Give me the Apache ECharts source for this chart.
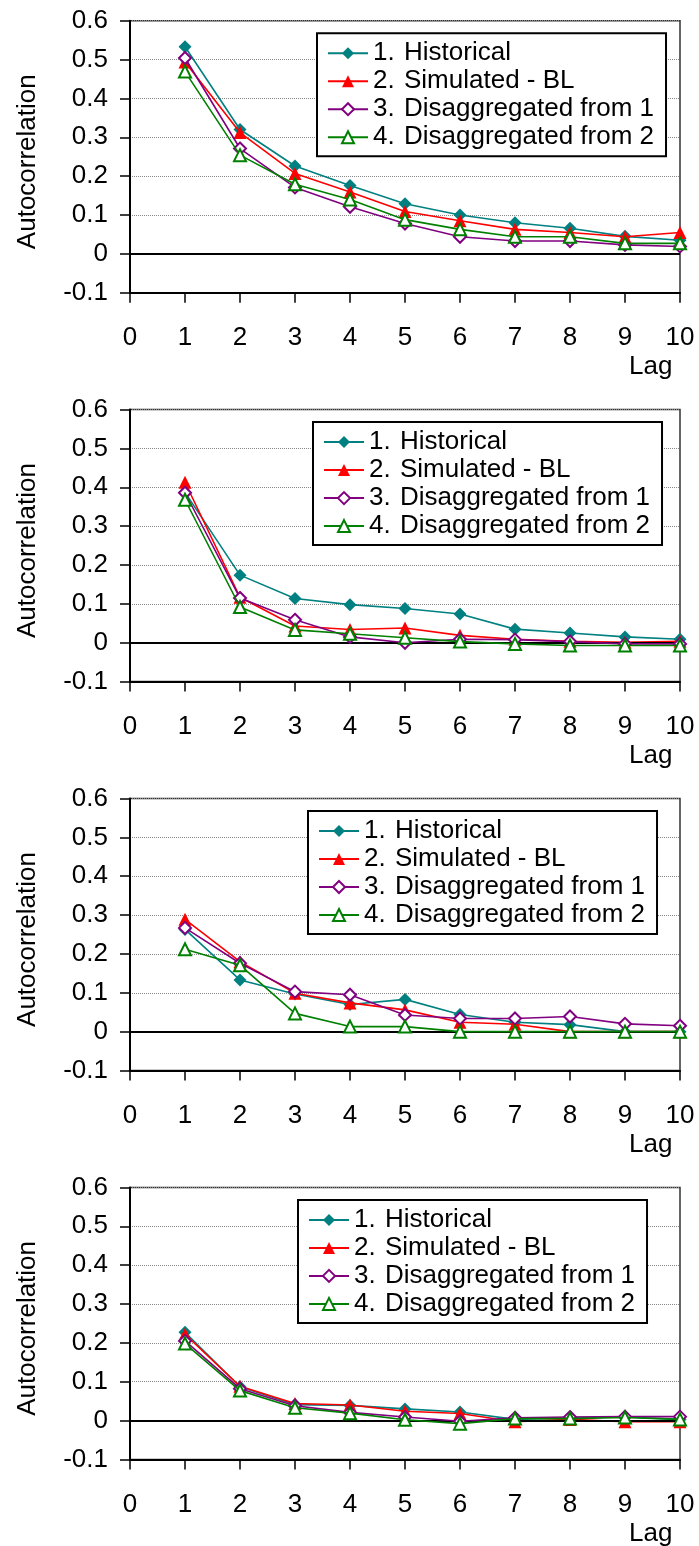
<!DOCTYPE html>
<html>
<head>
<meta charset="utf-8">
<script src="https://cdn.jsdelivr.net/npm/echarts@6/dist/echarts.min.js"></script>
<style>
  html, body { margin: 0; padding: 0; background: #fff; }
  #main { width: 699px; height: 1546px; }
</style>
</head>
<body>
<div id="main"></div>
<script>
var lags = [1, 2, 3, 4, 5, 6, 7, 8, 9, 10];
var seriesNames = ['1. Historical', '2. Simulated - BL', '3. Disaggregated from 1', '4. Disaggregated from 2'];
var yTicks = [-0.1, 0, 0.1, 0.2, 0.3, 0.4, 0.5, 0.6];

// panel 1
var p1Hist = [0.533, 0.320, 0.226, 0.176, 0.129, 0.100, 0.080, 0.066, 0.045, 0.035];
var p1Sim  = [0.494, 0.312, 0.207, 0.159, 0.109, 0.085, 0.063, 0.055, 0.044, 0.055];
var p1D1   = [0.504, 0.271, 0.171, 0.121, 0.078, 0.044, 0.033, 0.033, 0.023, 0.019];
var p1D2   = [0.469, 0.254, 0.179, 0.140, 0.088, 0.063, 0.044, 0.044, 0.027, 0.027];
// panel 2
var p2Hist = [0.387, 0.174, 0.114, 0.098, 0.088, 0.074, 0.035, 0.025, 0.015, 0.009];
var p2Sim  = [0.413, 0.117, 0.043, 0.034, 0.038, 0.019, 0.009, 0.004, 0.001, 0.004];
var p2D1   = [0.386, 0.115, 0.059, 0.015, 0.000, 0.009, 0.008, 0.003, -0.003, -0.003];
var p2D2   = [0.368, 0.092, 0.033, 0.023, 0.013, 0.003, -0.003, -0.007, -0.007, -0.007];
// panel 3
var p3Hist = [0.263, 0.133, 0.097, 0.070, 0.083, 0.044, 0.024, 0.018, 0.000, 0.000];
var p3Sim  = [0.289, 0.180, 0.099, 0.074, 0.056, 0.024, 0.019, 0.000, 0.000, 0.000];
var p3D1   = [0.267, 0.176, 0.103, 0.095, 0.043, 0.034, 0.034, 0.039, 0.020, 0.015];
var p3D2   = [0.212, 0.171, 0.047, 0.013, 0.013, 0.000, 0.000, 0.000, 0.000, 0.000];
// panel 4
var p4Hist = [0.227, 0.087, 0.041, 0.039, 0.030, 0.022, 0.003, 0.007, 0.009, 0.003];
var p4Sim  = [0.222, 0.088, 0.044, 0.040, 0.024, 0.018, -0.003, 0.003, -0.003, -0.003];
var p4D1   = [0.205, 0.082, 0.038, 0.021, 0.009, -0.002, 0.007, 0.009, 0.010, 0.010];
var p4D2   = [0.198, 0.077, 0.033, 0.019, 0.002, -0.008, 0.005, 0.005, 0.008, 0.003];

var panels = [
  [p1Hist, p1Sim, p1D1, p1D2],
  [p2Hist, p2Sim, p2D1, p2D2],
  [p3Hist, p3Sim, p3D1, p3D2],
  [p4Hist, p4Sim, p4D1, p4D2]
];

var FONT = '"Liberation Sans", Arial, sans-serif';
var FS = 26;
var styles = [
  { color: '#008080', symbol: 'diamond', size: 13, border: 0 },
  { color: '#FF0000', symbol: 'triangle', size: 13, border: 0 },
  { color: '#800080', symbol: 'emptyDiamond', size: 12, border: 1.5 },
  { color: '#008000', symbol: 'emptyTriangle', size: 12, border: 1.5 }
];
var legendLeft = [317, 313, 308, 298];
var gridH = 272;
function panelTop(i) { return 20.7 + i * 388.9; }

var option = {
  animation: false,
  textStyle: { fontFamily: FONT },
  grid: [], xAxis: [], yAxis: [], series: [], legend: [], graphic: []
};

panels.forEach(function(p, i) {
  var top = panelTop(i);
  option.grid.push({
    left: 130, right: 19, top: top, height: gridH,
    show: true, borderColor: '#333', borderWidth: 1.5
  });
  option.xAxis.push({
    type: 'value', gridIndex: i, min: 0, max: 10, interval: 1,
    axisLine: { onZero: false, lineStyle: { color: '#000', width: 2 } },
    axisTick: { length: 10, lineStyle: { color: '#000', width: 1.5 } },
    axisLabel: { color: '#000', fontSize: FS, fontFamily: FONT, margin: 32 },
    splitLine: { show: false }
  });
  option.yAxis.push({
    type: 'value', gridIndex: i, min: yTicks[0], max: yTicks[yTicks.length - 1], interval: 0.1,
    name: 'Autocorrelation', nameLocation: 'middle', nameGap: 89,
    nameTextStyle: { color: '#000', fontSize: FS, fontFamily: FONT, padding: [0, 10, 0, 0] },
    axisLine: { show: true, lineStyle: { color: '#000', width: 2 } },
    axisTick: { show: true, length: 10, lineStyle: { color: '#000', width: 1.5 } },
    axisLabel: { color: '#000', fontSize: FS, fontFamily: FONT, margin: 22 },
    splitLine: { show: true, lineStyle: { color: '#888', type: 'dotted', width: 1 } }
  });
  p.forEach(function(vals, k) {
    var st = styles[k];
    var s = {
      name: seriesNames[k], type: 'line', xAxisIndex: i, yAxisIndex: i,
      data: lags.map(function(l, j) { return [l, vals[j]]; }),
      symbol: st.symbol, symbolSize: st.size, showAllSymbol: true,
      lineStyle: { color: st.color, width: 1.6 },
      itemStyle: { color: st.color, borderWidth: st.border },
      z: 3 + k
    };
    if (k === 0) {
      s.markLine = {
        silent: true, symbol: 'none', label: { show: false },
        lineStyle: { color: '#000', width: 2, type: 'solid' },
        data: [{ yAxis: 0 }]
      };
    }
    option.series.push(s);
  });
  option.legend.push({
    data: seriesNames, orient: 'vertical', left: legendLeft[i], top: top + 12.5,
    itemWidth: 40, itemHeight: 15, itemGap: 2,
    padding: [7, 12, 6, 10],
    borderColor: '#000', borderWidth: 2, backgroundColor: '#fff',
    formatter: function(name) {
      var idx = name.indexOf(' ');
      return '{n|' + name.slice(0, idx) + '}{t|' + name.slice(idx + 1) + '}';
    },
    textStyle: {
      color: '#000', fontSize: FS, fontFamily: FONT,
      rich: {
        n: { width: 31, fontSize: FS, fontFamily: FONT, color: '#000' },
        t: { fontSize: FS, fontFamily: FONT, color: '#000' }
      }
    }
  });
  option.graphic.push({
    type: 'text', left: 629, top: top + gridH + 61,
    style: { text: 'Lag', fontSize: FS, fontFamily: FONT, fill: '#000' }
  });
});

var chart = echarts.init(document.getElementById('main'));
chart.setOption(option);
</script>
</body>
</html>
